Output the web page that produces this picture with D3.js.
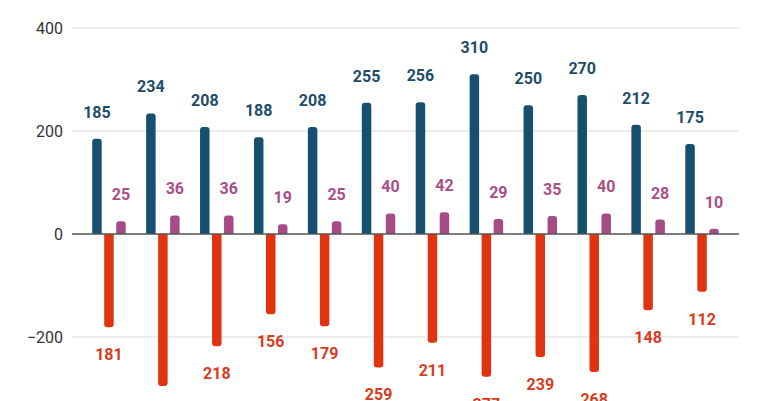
<!DOCTYPE html>
<html><head><meta charset="utf-8">
<script src="https://cdn.jsdelivr.net/npm/d3@7/dist/d3.min.js"></script>
<style>html,body{margin:0;padding:0;background:#fff;overflow:hidden}</style>
</head><body><svg id="c" width="768" height="401"></svg>
<script>
const categories = ["1","2","3","4","5","6","7","8","9","10","11","12"];
const seriesA = [185,234,208,188,208,255,256,310,250,270,212,175];
const seriesB = [181,295,218,156,179,259,211,277,239,268,148,112];
const seriesC = [25,36,36,19,25,40,42,29,35,40,28,10];
const yTicks = [-200,0,200,400];

const svg = d3.select("#c");
const font = "Roboto, 'Noto Sans', sans-serif";
const y = d3.scaleLinear().domain([-200,400]).range([337,28]);
const x = d3.scaleBand().domain(categories).range([82,729]).padding(0);
const gridX0 = 72, gridX1 = 739;
const barW = 9.5, step = 12;

// grid
svg.append("g").selectAll("line").data(yTicks.filter(d=>d!==0)).join("line")
  .attr("x1",gridX0).attr("x2",gridX1)
  .attr("y1",d=>y(d)).attr("y2",d=>y(d))
  .attr("stroke","#dcdcdc").attr("stroke-width",1.2);

// y labels via axis
const yAxis = d3.axisLeft(y).tickValues(yTicks).tickSize(0).tickPadding(0).tickFormat(d3.format("d"));
const ag = svg.append("g").attr("transform","translate(63,0)").call(yAxis);
ag.select(".domain").remove();
ag.selectAll("text").attr("font-family",font).attr("font-size",16).attr("fill","#333").attr("dy","0.35em");

function barPath(cx, v, r){
  const x0 = cx - barW/2, x1 = cx + barW/2;
  const y0 = y(0), y1 = y(v);
  const up = y1 < y0;
  const rr = Math.min(r, Math.abs(y1-y0));
  if (up) {
    return `M${x0},${y0}V${y1+rr}Q${x0},${y1} ${x0+rr},${y1}H${x1-rr}Q${x1},${y1} ${x1},${y1+rr}V${y0}Z`;
  } else {
    return `M${x0},${y0}V${y1-rr}Q${x0},${y1} ${x0+rr},${y1}H${x1-rr}Q${x1},${y1} ${x1},${y1-rr}V${y0}Z`;
  }
}

const series = [
  {vals: seriesA, sign: 1, off: -step, fill:"#17506f", lab:"#1d4c6a"},
  {vals: seriesB, sign: -1, off: 0, fill:"#e0330f", lab:"#d83c1c"},
  {vals: seriesC, sign: 1, off: step, fill:"#a54c87", lab:"#a84f88"}
];
series.forEach(s=>{
  const g = svg.append("g");
  g.selectAll("path").data(s.vals).join("path")
    .attr("d",(d,i)=>barPath(x(categories[i])+x.bandwidth()/2+s.off, s.sign*d, 3))
    .attr("fill",s.fill);
  g.selectAll("text").data(s.vals).join("text")
    .attr("x",(d,i)=>x(categories[i])+x.bandwidth()/2+s.off)
    .attr("y",d=> s.sign>0 ? y(d)-21 : y(-d)+33)
    .attr("text-anchor","middle")
    .attr("font-family",font).attr("font-size",16).attr("font-weight","bold")
    .attr("fill",s.lab).text(d=>d);
});

// zero line
svg.append("line").attr("x1",gridX0).attr("x2",gridX1).attr("y1",y(0)).attr("y2",y(0))
  .attr("stroke","#555").attr("stroke-width",1.5);
</script></body></html>
